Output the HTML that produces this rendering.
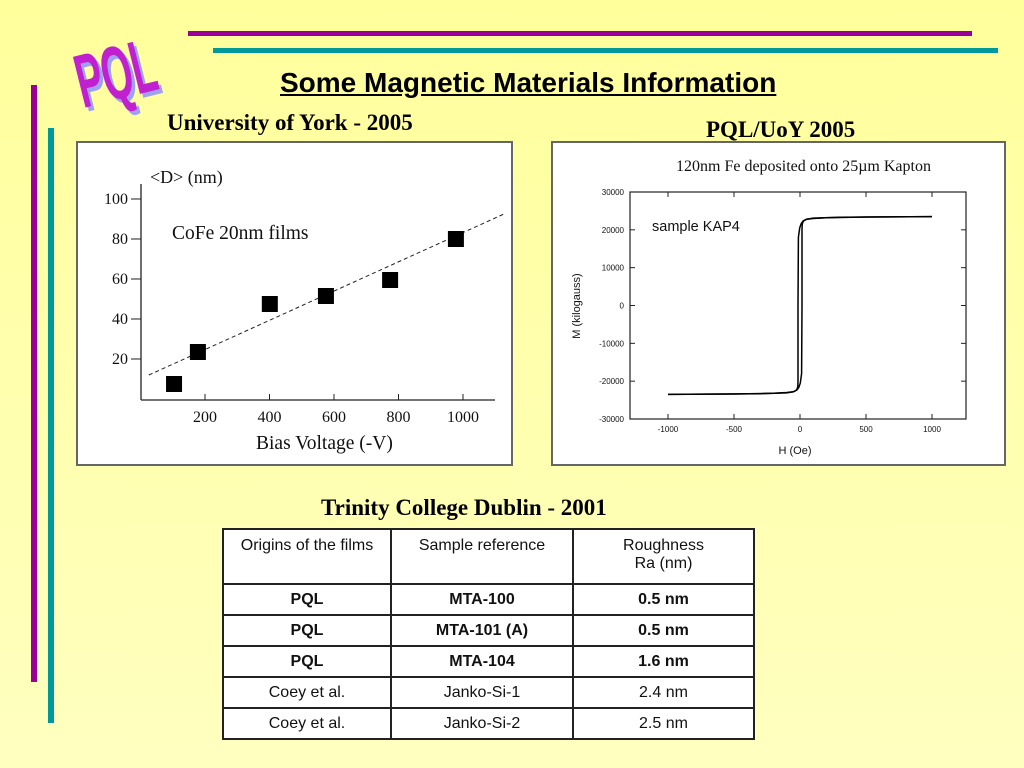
<!DOCTYPE html>
<html><head><meta charset="utf-8">
<style>
body{margin:0;width:1024px;height:768px;overflow:hidden;background:linear-gradient(#ffff9c,#ffffc0);font-family:"Liberation Sans",sans-serif;position:relative}
.abs{position:absolute}
table{border-collapse:collapse;position:absolute;left:222px;top:528px;width:533px;background:#fff}
td{border:2px solid #222;text-align:center;font-size:16px;color:#111;padding:0}
</style></head><body>
<div class="abs" style="left:188px;top:31px;width:784px;height:5px;background:#990099"></div>
<div class="abs" style="left:213px;top:48px;width:785px;height:5px;background:#009999"></div>
<div class="abs" style="left:31px;top:85px;width:6px;height:597px;background:#990099"></div>
<div class="abs" style="left:48px;top:128px;width:6px;height:595px;background:#009999"></div>
<div class="abs" style="left:66px;top:40px;font:bold 66px 'Liberation Sans',sans-serif;color:#c020d0;transform:rotate(-14deg) scale(0.6,1.15);transform-origin:left top;text-shadow:4px 4px 0 #a0a0f0;letter-spacing:-1px">PQL</div>
<div class="abs" style="left:280px;top:67px;font:bold 28px 'Liberation Sans',sans-serif;text-decoration:underline;transform:scaleX(1.0)">Some Magnetic Materials Information</div>
<div class="abs" style="left:167px;top:110px;font:bold 23px 'Liberation Serif',serif">University of York - 2005</div>
<div class="abs" style="left:706px;top:117px;font:bold 23px 'Liberation Serif',serif">PQL/UoY 2005</div>
<div class="abs" style="left:321px;top:495px;font:bold 23px 'Liberation Serif',serif">Trinity College Dublin - 2001</div>

<svg class="abs" style="left:0;top:0" width="1024" height="768">
<rect x="77" y="142" width="435" height="323" fill="#fff" stroke="#666" stroke-width="2"/>
<rect x="552" y="142" width="453" height="323" fill="#fff" stroke="#666" stroke-width="2"/>
<g id="left" font-family="Liberation Serif, serif" fill="#111"></g>
<g id="right" font-family="Liberation Sans, sans-serif" fill="#111"></g>
</svg>

<table>
<tr style="height:55px"><td style="width:166px;vertical-align:top;padding-top:7px">Origins of the films</td><td style="width:180px;vertical-align:top;padding-top:7px">Sample reference</td><td style="vertical-align:top;padding-top:7px">Roughness<br>Ra (nm)</td></tr>
<tr style="height:31px"><td><b>PQL</b></td><td><b>MTA-100</b></td><td><b>0.5 nm</b></td></tr>
<tr style="height:31px"><td><b>PQL</b></td><td><b>MTA-101 (A)</b></td><td><b>0.5 nm</b></td></tr>
<tr style="height:31px"><td><b>PQL</b></td><td><b>MTA-104</b></td><td><b>1.6 nm</b></td></tr>
<tr style="height:31px"><td>Coey et al.</td><td>Janko-Si-1</td><td>2.4 nm</td></tr>
<tr style="height:31px"><td>Coey et al.</td><td>Janko-Si-2</td><td>2.5 nm</td></tr>
</table>

<script>
const biasV=[104,178,401,575,774,978];
const grainD=[7.5,23.5,47.5,51.5,59.5,80];
const fitX=[26,1127];
const fitY=[12,92.5];
const leftXTicks=[200,400,600,800,1000];
const leftYTicks=[20,40,60,80,100];
const hDown=[1000,500,200,100,50,25,10,-2,-12,-15,-15,-17,-25,-50,-100,-300,-1000];
const mDown=[23500,23400,23200,23000,22800,22400,21700,20500,18000,0,-20000,-21500,-22300,-22800,-23100,-23300,-23500];
const hUp=[-1000,-500,-200,-100,-50,-25,-10,2,12,15,15,17,25,50,100,300,1000];
const mUp=[-23500,-23400,-23200,-23000,-22800,-22400,-21700,-20500,-18000,0,20000,21500,22300,22800,23100,23300,23500];
const rightXTicks=[-1000,-500,0,500,1000];
const rightYTicks=[-30000,-20000,-10000,0,10000,20000,30000];
const NS='http://www.w3.org/2000/svg';
function mk(p,t,a){const e=document.createElementNS(NS,t);for(const k in a)e.setAttribute(k,a[k]);p.appendChild(e);return e;}
const L=document.getElementById('left');
const lx=v=>140.5+v*0.3225, ly=v=>399-v*2;
let e;
e=mk(L,'line',{x1:141,y1:184,x2:141,y2:400,stroke:'#222','stroke-width':1.3});


e=mk(L,'line',{x1:141,y1:400,x2:495,y2:400,stroke:'#222','stroke-width':1.3});


leftXTicks.forEach(t=>{mk(L,'line',{x1:lx(t),y1:400,x2:lx(t),y2:394,stroke:'#222'});
 e=mk(L,'text',{x:lx(t),y:422,'text-anchor':'middle','font-size':16});e.textContent=t;
 
 });
leftYTicks.forEach(t=>{mk(L,'line',{x1:131,y1:ly(t),x2:141,y2:ly(t),stroke:'#222'});
 e=mk(L,'text',{x:128,y:ly(t)+5,'text-anchor':'end','font-size':16});e.textContent=t;
 
 });
e=mk(L,'line',{x1:lx(fitX[0]),y1:ly(fitY[0]),x2:lx(fitX[1]),y2:ly(fitY[1]),stroke:'#222','stroke-dasharray':'4,3'});


biasV.forEach((v,i)=>{e=mk(L,'rect',{x:lx(v)-8,y:ly(grainD[i])-8,width:16,height:16,fill:'#000'});
 
 });
e=mk(L,'text',{x:150,y:183,'font-size':18});e.textContent='<D> (nm)';


e=mk(L,'text',{x:172,y:239,'font-size':19.5});e.textContent='CoFe 20nm films';


e=mk(L,'text',{x:256,y:449,'font-size':19.5});e.textContent='Bias Voltage (-V)';


const R=document.getElementById('right');
const rx=v=>800+v*0.132, ry=v=>305.5-v*227/60000;
e=mk(R,'rect',{x:630,y:192,width:336,height:227,fill:'none',stroke:'#222','stroke-width':1.2});


rightXTicks.forEach(t=>{mk(R,'line',{x1:rx(t),y1:419,x2:rx(t),y2:414,stroke:'#222'});mk(R,'line',{x1:rx(t),y1:192,x2:rx(t),y2:197,stroke:'#222'});
 e=mk(R,'text',{x:rx(t),y:432,'text-anchor':'middle','font-size':8});e.textContent=t;
 
 });
rightYTicks.forEach(t=>{mk(R,'line',{x1:630,y1:ry(t),x2:635,y2:ry(t),stroke:'#222'});mk(R,'line',{x1:966,y1:ry(t),x2:961,y2:ry(t),stroke:'#222'});
 e=mk(R,'text',{x:624,y:ry(t)+3,'text-anchor':'end','font-size':8});e.textContent=t;
 
 });
const pth=(h,m)=>h.map((v,i)=>(i?'L':'M')+rx(v).toFixed(1)+','+ry(m[i]).toFixed(1)).join(' ');
e=mk(R,'path',{d:pth(hDown,mDown),fill:'none',stroke:'#000','stroke-width':1.5});


e=mk(R,'path',{d:pth(hUp,mUp),fill:'none',stroke:'#000','stroke-width':1.5});


e=mk(R,'text',{x:652,y:231,'font-size':14.5});e.textContent='sample KAP4';


e=mk(R,'text',{x:676,y:171,'font-size':16,'font-family':'Liberation Serif, serif'});e.textContent='120nm Fe deposited onto 25µm Kapton';


e=mk(R,'text',{x:795,y:454,'text-anchor':'middle','font-size':11});e.textContent='H (Oe)';


e=mk(R,'text',{x:580,y:306,'text-anchor':'middle','font-size':11,transform:'rotate(-90 580 306)'});e.textContent='M (kilogauss)';


</script>
</body></html>
